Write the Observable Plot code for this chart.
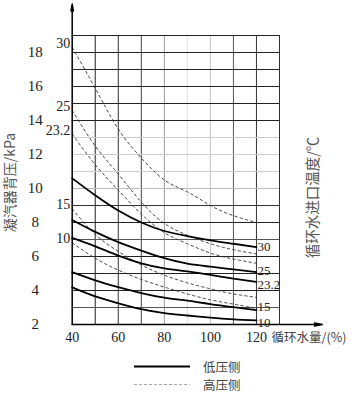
<!DOCTYPE html>
<html><head><meta charset="utf-8">
<script src="https://cdn.jsdelivr.net/npm/d3@7"></script>
<script src="https://cdn.jsdelivr.net/npm/@observablehq/plot@0.6"></script>
<style>
body{margin:0;background:#fff}
#wrap{width:358px;height:394px;position:relative;overflow:hidden}
#legend{position:relative;width:358px;height:42px;font-family:"Noto Sans CJK SC";font-size:12.5px;color:#444}
#legend .row{position:absolute;left:0;height:15px;line-height:15px;display:flex;align-items:center}
</style>
</head><body><div id="wrap"><div id="chart"></div>
<div id="legend">
  <div class="row" style="top:7px"><svg width="200" height="15"><line x1="134" x2="190" y1="7.5" y2="7.5" stroke="#000" stroke-width="2"/></svg><span style="margin-left:3px">低压侧</span></div>
  <div class="row" style="top:25px"><svg width="200" height="15"><line x1="134" x2="190" y1="7.5" y2="7.5" stroke="#aaa" stroke-width="1" stroke-dasharray="3,2"/></svg><span style="margin-left:3px">高压侧</span></div>
</div></div>
<script>
// circulating water flow (%)
const flow = [40, 50, 60, 70, 80, 90, 100, 110, 120];
// inlet water temperature labels (°C)
const tempLabels = ["30", "25", "23.2", "15", "10"];
// low-pressure side back pressure (kPa)
const low30  = [10.6, 9.6, 8.7, 8.0, 7.5, 7.2, 6.95, 6.75, 6.55];
const low25  = [8.15, 7.45, 6.85, 6.35, 5.9, 5.58, 5.4, 5.24, 5.08];
const low232 = [7.1, 6.6, 6.05, 5.6, 5.3, 5.12, 4.92, 4.7, 4.5];
const low15  = [5.08, 4.6, 4.2, 3.85, 3.58, 3.4, 3.2, 3.02, 2.85];
const low10  = [4.18, 3.65, 3.25, 2.9, 2.67, 2.53, 2.4, 2.3, 2.24];
// high-pressure side back pressure (kPa)
const high30  = [18.3, 15.9, 13.5, 11.8, 10.5, 9.8, 9.0, 8.4, 8.0];
const high25  = [14.6, 12.5, 10.85, 9.2, 7.95, 7.25, 6.75, 6.4, 6.15];
const high232 = [13.2, 11.4, 9.9, 8.5, 7.4, 6.75, 6.2, 5.85, 5.6];
const high15  = [8.8, 7.3, 6.3, 5.5, 4.9, 4.45, 4.1, 3.8, 3.6];
const high10  = [6.8, 5.9, 5.2, 4.65, 4.2, 3.8, 3.45, 3.2, 2.95];
// ticks
const xTicks = [40, 60, 80, 100, 120];
const yTicks = [2, 4, 6, 8, 10, 12, 14, 16, 18];
const xGrid = [50, 60, 70, 80, 90, 100, 110, 120, 130];
const yGrid = [3, 4, 5, 6, 7, 8, 9, 10, 11, 12, 13, 14, 15, 16, 17, 18, 19];
// grid shades (styles)
const xGridShade = ["#222", "#333", "#444", "#999", "#e2e2e2", "#c4c4c4", "#555", "#333", "#333"];
const yGridShade = ["#555", "#222", "#222", "#222", "#555", "#222", "#333", "#bbb", "#ccc", "#ccc", "#ccc", "#222", "#222", "#222", "#222", "#222", "#222"];
// end-label pixel nudges (styles)
const endLabelDy = [0, -1, 3, -3, 2];

const lowSeries = [low30, low25, low232, low15, low10];
const highSeries = [high30, high25, high232, high15, high10];
const toRows = s => s.flatMap((vals, i) => vals.map((p, j) => ({temp: tempLabels[i], flow: flow[j], p})));
const lowRows = toRows(lowSeries);
const highRows = toRows(highSeries);
const highStart = highSeries.map((v, i) => ({temp: tempLabels[i], p: v[0]}));
const lowEnd = lowSeries.map((v, i) => ({temp: tempLabels[i], p: v[v.length - 1], i}));

const serif = "'Liberation Serif', 'Times New Roman', serif";
const cjk = "'Noto Sans CJK SC', sans-serif";

const chart = Plot.plot({
  width: 358, height: 352,
  marginLeft: 71.7, marginRight: 79, marginTop: 35, marginBottom: 28,
  x: {domain: [40, 130], axis: null},
  y: {domain: [2, 19], axis: null},
  color: {type: "identity"},
  style: {background: "white", overflow: "visible", fontFamily: serif},
  marks: [
    Plot.ruleX(xGrid, {x: d => d, y1: 2, y2: 19, stroke: (d, i) => xGridShade[i], strokeWidth: 1}),
    Plot.ruleY(yGrid, {y: d => d, x1: 40, x2: 130, stroke: (d, i) => yGridShade[i], strokeWidth: 1}),
    Plot.line(highRows, {x: "flow", y: "p", z: "temp", curve: "natural", stroke: "#333", strokeWidth: 0.9, strokeDasharray: "2.5,3"}),
    Plot.line(lowRows, {x: "flow", y: "p", z: "temp", curve: "natural", stroke: "#000", strokeWidth: 1.8}),
    Plot.arrow([0], {x1: 40, y1: 2, x2: 40, y2: 20.85, stroke: "#000", strokeWidth: 1.5, headLength: 7, headAngle: 20}),
    Plot.arrow([0], {x1: 40, y1: 2, x2: 148.6, y2: 2, stroke: "#000", strokeWidth: 1.5, headLength: 8, headAngle: 20}),
    Plot.text(yTicks, {x: 40, y: d => d, text: d => String(d), dx: -37, textAnchor: "middle", fontFamily: serif, fontSize: 15, fill: "#222"}),
    Plot.text(xTicks, {x: d => d, y: 2, text: d => String(d), dy: 13, textAnchor: "middle", fontFamily: serif, fontSize: 14, fill: "#222"}),
    Plot.text(highStart, {x: 40, y: "p", text: "temp", dx: -2, dy: -4, textAnchor: "end", fontFamily: serif, fontSize: 14, fill: "#222"}),
    ...lowEnd.map(d => Plot.text([d], {x: 120, y: "p", text: "temp", dx: 1, dy: endLabelDy[d.i], textAnchor: "start", fontFamily: serif, fontSize: 13, fill: "#222"})),
    Plot.text(["凝汽器背压/kPa"], {frameAnchor: "left", dx: -62, dy: 2.5, rotate: -90, textAnchor: "middle", fontFamily: cjk, fontSize: 14, fill: "#555"}),
    Plot.text(["循环水进口温度/℃"], {frameAnchor: "right", dx: 34, dy: 17.5, rotate: -90, textAnchor: "middle", fontFamily: cjk, fontSize: 14.5, fill: "#555"}),
    Plot.text(["循环水量/(%)"], {frameAnchor: "bottom-right", dx: -8, dy: 17, textAnchor: "start", fontFamily: cjk, fontSize: 12.5, fill: "#444"})
  ]
});
document.getElementById("chart").appendChild(chart);
</script>
</body></html>
